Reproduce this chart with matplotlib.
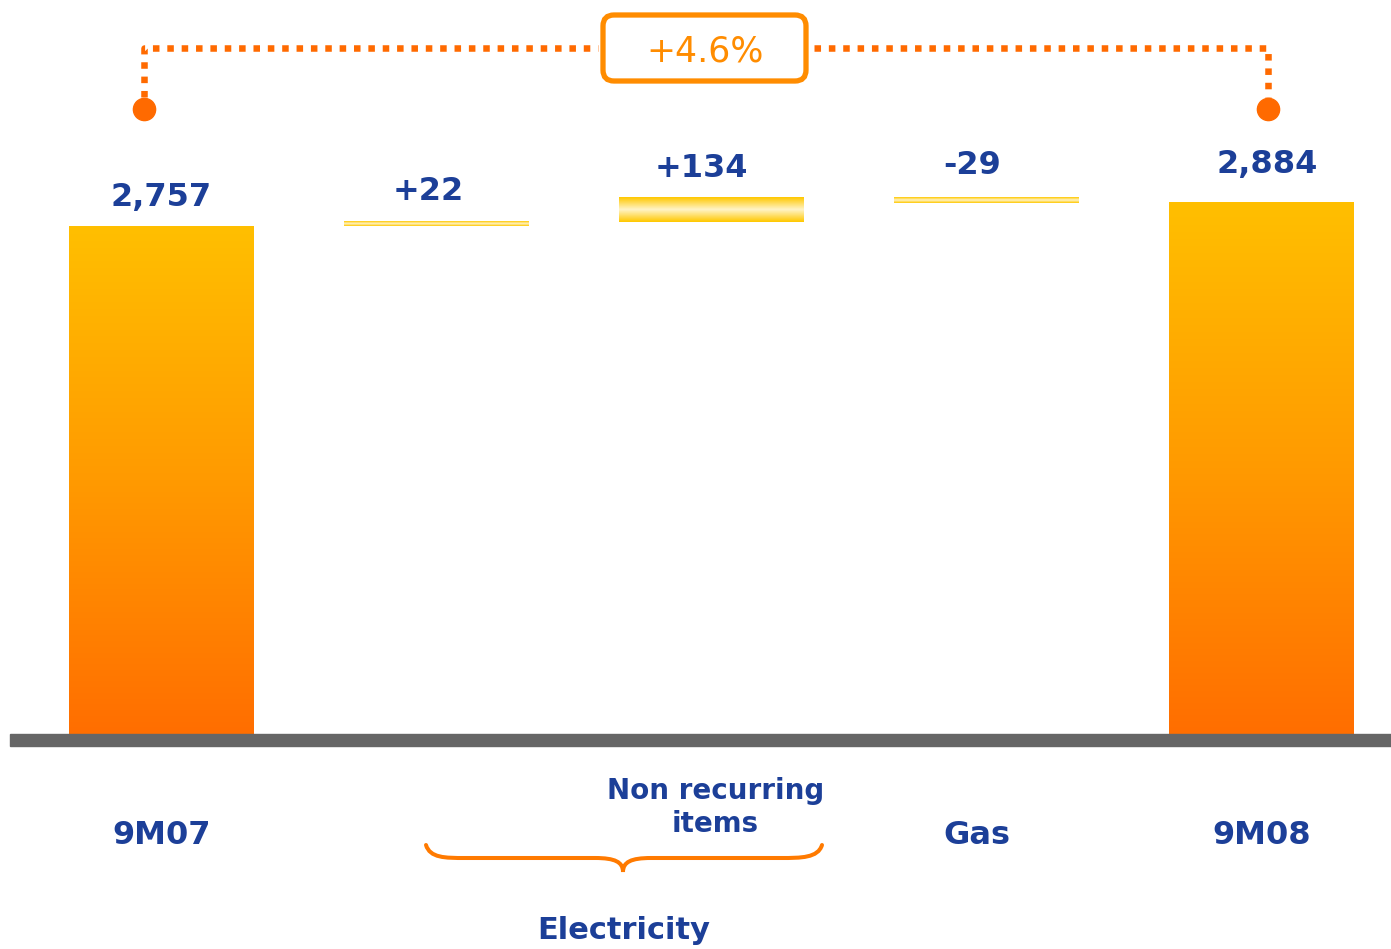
import numpy as np
import matplotlib.pyplot as plt
from matplotlib.colors import LinearSegmentedColormap
from matplotlib.patches import Rectangle, FancyBboxPatch, PathPatch
from matplotlib.path import Path
from matplotlib.transforms import Affine2D

# -- data --
categories = ['9M07', '+22', '+134', '-29', '9M08']
values     = [2757, 22, 134, -29, 2884]
kinds      = ['total', 'delta', 'delta', 'delta', 'total']
value_labels = ['2,757', '+22', '+134', '-29', '2,884']
x_labels   = ['9M07', '', 'Non recurring\nitems', 'Gas', '9M08']
group_label = 'Electricity'
growth_label = '+4.6%'

# label nudges in pixels (dx, dy above bar top)
label_dx = [0, -8, -10, -14, 6]
label_dy = [20, 22, 21, 24, 30]

BLUE   = '#1c3f98'
ORANGE = '#ff6a00'
BOX_OR = '#ff8c00'

W, H = 1391, 949
fig = plt.figure(figsize=(W / 100, H / 100), dpi=100)
ax = fig.add_axes([0, 0, 1, 1])

# pixel transform (origin top-left) for the decorations
pix = Affine2D().scale(1, -1).translate(0, H)

bar_cmap   = LinearSegmentedColormap.from_list('bar', ['#ff6e00', '#ff9a00', '#ffbf00'])
float_cmap = LinearSegmentedColormap.from_list('flt', ['#ffc800', '#fff4c8', '#ffc800'])
width = 0.67

# -- waterfall bars --
running = 0
for i, (v, k) in enumerate(zip(values, kinds)):
    if k == 'total':
        lo, hi = 0, v
        running = v
        cmap = bar_cmap
        grad = np.linspace(0, 1, 256).reshape(-1, 1)
    else:
        lo, hi = sorted([running, running + v])
        running += v
        cmap = float_cmap
        grad = np.linspace(0, 1, 64).reshape(-1, 1)
    ax.imshow(grad, extent=[i - width / 2, i + width / 2, lo, hi], origin='lower',
              aspect='auto', cmap=cmap, interpolation='bilinear', zorder=2)
    ax.annotate(value_labels[i], (i, hi), xytext=(label_dx[i], label_dy[i]),
                textcoords='offset pixels', ha='center', va='baseline',
                fontsize=23, fontweight='bold', color=BLUE)

ax.set_xlim(-0.587, 4.471)
ax.set_ylim(-1167, 3986)
ax.axis('off')

# baseline
ax.add_patch(Rectangle((-0.551, -65), 5.1, 65, color='#666666', zorder=3))

# category labels
for i, lab in enumerate(x_labels):
    if not lab:
        continue
    if '\n' in lab:
        ax.text(i + 0.015, -398, lab, ha='center', va='center', fontsize=20,
                fontweight='bold', color=BLUE, linespacing=1.25)
    else:
        dx = -0.035 if lab == 'Gas' else 0
        ax.text(i + dx, -548, lab, ha='center', va='center', fontsize=23,
                fontweight='bold', color=BLUE)
ax.text(1.68, -1064, group_label, ha='center', va='center', fontsize=22,
        fontweight='bold', color=BLUE)

# brace under the electricity items
brace = [(426, 845), (430, 858), (445, 858), (465, 858),
         (595, 858), (615, 858), (623, 862), (623, 872),
         (623, 862), (631, 858), (651, 858),
         (781, 858), (801, 858), (818, 858), (822, 845)]
codes = [Path.MOVETO, Path.CURVE4, Path.CURVE4, Path.CURVE4,
         Path.LINETO, Path.CURVE4, Path.CURVE4, Path.CURVE4,
         Path.CURVE4, Path.CURVE4, Path.CURVE4,
         Path.LINETO, Path.CURVE4, Path.CURVE4, Path.CURVE4]
ax.add_patch(PathPatch(Path(brace, codes), transform=pix, fill=False,
                       edgecolor='#ff7a00', lw=2.9, capstyle='round'))

# growth bracket across the top
dots = dict(color=ORANGE, lw=4.7, linestyle=(0, (1, 1.2)), dash_capstyle='butt',
            transform=pix)
ax.plot([144, 144, 598], [97, 48, 48], **dots)
ax.plot([814, 1268, 1268], [48, 48, 97], **dots)
ax.plot([144, 1268], [109, 109], 'o', color=ORANGE, ms=16, lw=0, transform=pix)

ax.add_patch(FancyBboxPatch((603, 15), 203, 66, boxstyle='round,pad=0,rounding_size=11',
                            transform=pix, fill=False, edgecolor=BOX_OR, lw=3.8))
ax.text(705, 51, growth_label, transform=pix, ha='center', va='center',
        fontsize=25, color=BOX_OR, path_effects=None)

plt.savefig('out.png', dpi=100)
